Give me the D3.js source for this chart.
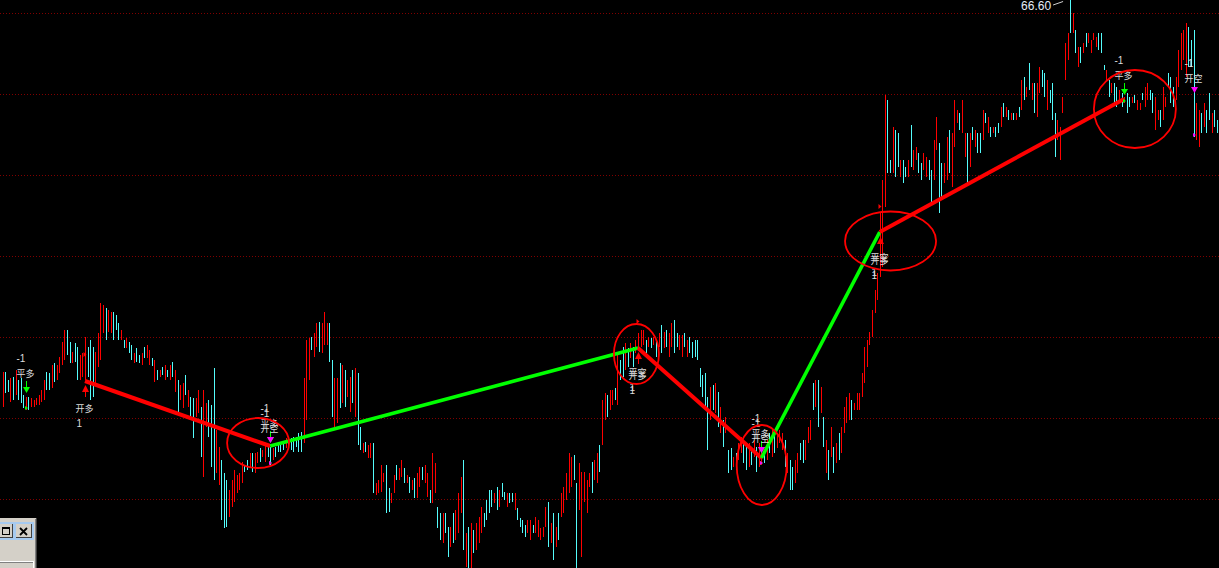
<!DOCTYPE html>
<html><head><meta charset="utf-8">
<script src="https://cdn.jsdelivr.net/npm/d3@7"></script>
<style>html,body{margin:0;padding:0;background:#000;overflow:hidden}svg{display:block}</style>
</head><body><svg id="c" width="1219" height="568"></svg>
<script>
// ---- bar data (high / low / up=1 red, 0 cyan) ----
const high = [
48.00,48.00,47.60,47.70,47.75,48.10,47.60,47.70,46.85,46.75,
46.75,46.70,46.60,46.70,46.85,47.10,47.60,48.00,47.95,48.35,
48.45,48.35,48.75,49.50,50.10,50.10,49.50,49.00,49.45,49.25,
48.85,48.95,49.75,49.25,49.60,49.25,49.00,49.95,51.45,51.35,
51.20,51.10,51.00,51.00,50.85,50.45,50.10,49.60,49.70,49.50,
49.35,48.95,49.20,48.85,48.95,49.25,49.35,49.10,48.70,48.60,
48.10,48.10,48.25,48.35,48.10,48.35,48.50,48.10,47.60,47.35,
47.45,47.85,47.10,46.75,46.70,46.70,47.10,46.25,47.10,46.45,
46.60,46.35,48.20,45.10,44.25,43.60,42.95,42.60,42.10,42.60,
43.10,42.85,42.95,43.50,43.35,43.60,43.95,43.95,43.95,44.00,
44.20,44.10,44.35,44.25,44.25,44.20,44.25,44.45,44.35,44.50,
44.70,44.75,44.70,44.75,44.75,44.95,45.00,47.70,49.60,49.70,
49.75,49.95,50.45,50.50,50.45,51.00,50.45,50.45,48.60,47.70,
47.70,48.45,48.35,48.10,47.60,47.75,48.10,48.20,47.95,45.25,
44.45,44.50,44.35,44.45,44.45,42.45,42.60,43.35,42.95,43.35,
42.20,41.95,42.85,43.35,43.20,43.60,43.20,42.85,42.75,42.60,
42.70,42.95,43.25,43.25,43.35,42.95,42.10,43.95,43.45,41.25,
40.95,40.95,40.95,40.25,40.25,40.95,41.10,41.95,42.75,43.60,
39.95,40.25,40.45,40.10,40.45,40.75,41.25,40.95,41.60,42.10,
42.10,41.95,42.25,42.10,42.45,42.00,41.95,41.95,41.95,41.95,
41.20,40.70,40.60,40.35,40.60,40.60,40.35,40.75,40.60,40.20,
40.25,41.25,41.50,40.45,40.95,40.25,40.95,41.95,42.25,42.95,
43.95,43.75,43.85,42.45,43.45,43.00,43.00,42.60,42.95,43.50,
43.60,43.95,44.35,46.60,46.95,46.85,47.10,47.10,47.20,
48.95,48.60,49.25,49.45,49.20,49.45,49.25,49.60,49.95,50.10,
50.10,49.60,49.75,49.70,49.75,49.60,49.95,50.35,50.00,50.10,
49.95,50.45,50.60,49.95,49.85,49.85,49.95,49.60,49.75,49.50,
49.60,49.60,48.20,47.85,47.95,46.75,47.25,47.35,47.45,47.00,
46.25,45.60,45.75,44.10,44.20,43.75,43.95,44.45,44.75,44.45,
44.25,44.45,44.20,44.60,44.25,44.45,44.10,44.10,44.60,44.95,
45.10,44.95,44.95,45.10,44.95,44.60,43.95,43.60,43.25,43.60,
43.95,44.45,44.60,44.60,45.25,45.60,47.45,47.60,47.60,47.25,
45.75,44.60,44.10,45.25,44.25,44.45,44.95,45.25,46.25,46.75,
46.95,46.60,46.45,46.95,46.95,47.95,49.25,49.60,50.00,51.10,
52.10,52.95,55.95,57.60,61.85,61.60,58.60,60.25,60.10,59.95,
58.60,58.60,58.25,58.60,60.35,59.10,59.25,58.95,58.45,58.95,
58.75,58.60,58.10,59.60,60.75,59.45,58.45,58.45,59.75,60.10,
59.95,61.60,61.10,60.95,61.60,59.95,59.95,59.95,60.25,60.10,
59.95,59.95,61.10,60.95,60.75,60.25,60.25,60.25,60.45,61.25,
61.45,61.25,61.10,60.95,60.95,60.95,61.25,62.60,62.75,62.25,
63.45,62.45,62.45,62.45,63.25,63.10,62.95,62.60,62.10,62.45,
60.95,60.60,60.25,61.75,64.45,64.95,66.60,65.95,65.10,64.25,
64.25,64.45,64.95,64.95,64.60,64.95,64.75,64.95,64.95,63.35,
63.10,62.60,62.45,62.45,62.25,62.10,61.95,61.75,61.95,61.75,
61.75,61.85,61.60,61.45,61.95,62.25,62.45,62.10,61.95,61.75,
61.10,61.10,62.25,61.75,62.95,62.75,62.25,62.75,64.10,64.95,
65.10,65.45,65.25,64.60,65.10,61.45,61.10,60.95,61.45,61.10,
61.95,60.95,61.10,60.60,60.75
];
const low = [
46.25,46.95,47.00,46.50,46.60,46.85,46.60,46.45,46.20,46.10,
46.10,46.25,46.25,46.35,46.35,46.50,46.60,47.10,47.10,47.20,
47.50,47.60,47.95,48.35,48.60,48.85,48.45,48.45,48.50,47.60,
47.60,47.75,47.60,47.75,46.60,46.75,47.45,48.25,48.60,49.95,
49.60,50.00,49.95,49.60,50.10,49.60,49.60,49.20,49.20,48.95,
48.60,48.45,48.50,48.45,48.35,48.70,48.70,48.35,48.30,47.50,
47.60,47.75,47.85,47.60,47.75,47.60,47.75,47.00,45.95,46.60,
46.20,46.85,46.25,45.60,44.70,45.75,45.95,43.75,42.75,45.25,
44.75,43.25,42.60,42.95,42.35,40.60,40.20,40.25,40.75,41.25,
41.50,41.95,42.10,42.45,43.00,43.10,43.25,43.00,42.95,43.45,
43.50,43.75,43.50,43.75,43.35,43.60,43.75,44.00,44.00,44.10,
44.20,44.25,44.10,44.00,44.25,44.00,44.00,44.45,45.60,47.60,
49.10,48.75,49.25,49.00,48.95,49.35,49.35,48.50,45.75,45.25,
45.45,46.20,46.45,46.25,46.75,46.00,46.45,45.75,44.35,44.10,
43.95,44.00,43.70,43.70,41.95,41.85,41.95,42.00,42.50,40.95,
41.00,41.45,41.95,42.60,42.60,42.75,42.45,42.45,41.95,42.10,
41.70,41.70,42.25,42.60,42.45,41.75,41.45,41.45,41.95,40.20,
39.60,39.45,39.95,38.75,39.25,39.45,39.60,39.95,40.95,39.10,
38.25,38.20,38.20,38.95,39.10,39.45,39.95,40.25,40.60,40.95,
41.25,41.45,41.10,41.25,41.75,41.60,41.25,41.45,41.50,41.10,
40.60,40.25,39.95,39.75,39.95,39.60,39.95,39.95,39.75,39.60,
39.75,40.25,39.25,39.45,38.60,39.25,39.60,40.75,40.95,41.60,
41.95,42.25,42.60,38.20,41.10,38.75,41.50,40.95,42.25,41.95,
42.60,42.45,43.00,44.35,45.60,45.75,46.10,46.35,46.60,
46.35,47.60,47.75,48.10,48.25,48.70,48.25,48.95,49.10,49.25,
49.35,48.95,49.25,49.20,49.35,48.75,49.25,48.95,49.20,49.25,
48.75,49.25,48.95,49.25,49.10,48.75,49.25,48.75,48.95,48.70,
48.75,48.60,47.25,46.75,46.25,44.10,45.60,46.10,45.95,45.25,
44.95,44.25,44.95,42.95,43.10,43.25,43.10,43.60,43.95,43.45,
43.10,43.25,43.35,43.75,43.00,43.25,43.35,43.45,43.60,43.95,
43.75,43.95,44.20,44.45,44.10,43.25,42.95,42.10,42.10,42.45,
42.95,43.60,43.45,43.60,44.45,44.60,46.10,46.25,45.25,45.95,
44.25,42.95,42.60,43.75,42.95,43.45,43.60,43.95,44.95,45.45,
45.60,45.60,46.10,46.10,46.10,46.75,47.45,48.25,49.35,49.75,
50.95,51.60,52.75,53.25,56.25,57.95,57.95,57.95,57.75,58.25,
57.75,57.45,57.75,57.75,58.25,58.10,58.60,57.95,57.60,58.10,
57.75,57.60,56.45,57.60,59.10,55.95,56.75,57.45,57.60,57.95,
57.25,59.25,60.45,60.10,59.95,58.75,57.35,58.25,59.60,59.25,
58.95,58.95,59.60,60.45,59.95,59.75,59.95,59.75,59.95,60.25,
60.75,60.75,60.60,60.60,60.60,60.60,60.75,61.10,61.60,61.75,
62.10,61.60,60.95,60.75,61.95,62.25,61.75,61.10,61.45,60.60,
58.75,59.60,58.60,60.95,62.60,63.60,64.95,64.95,63.95,63.25,
63.45,63.95,64.25,64.45,63.95,64.60,64.25,64.10,63.95,63.10,
62.60,61.75,61.95,61.45,61.25,61.60,61.25,61.45,60.95,61.25,
61.45,61.45,61.10,61.10,61.60,61.25,61.60,61.60,60.95,60.10,
60.60,60.25,60.60,61.25,62.25,61.45,61.25,61.60,62.25,63.10,
63.60,62.75,63.25,63.25,59.75,59.60,59.25,59.95,60.25,59.95,
60.60,59.95,60.25,59.95,59.75
];
const up = [
1,0,0,1,0,1,0,0,0,1, 0,1,1,1,1,1,1,0,0,1, 0,1,1,1,1,0,0,1,0,0, 1,1,1,0,0,0,1,1,1,1,
0,1,1,0,0,0,1,0,1,0, 0,1,0,0,1,0,1,1,0,1, 0,1,0,1,0,1,0,1,0,1, 1,0,1,0,0,1,1,0,1,1,
0,0,0,1,1,0,0,0,1,1, 1,1,1,1,0,0,1,0,1,1, 0,1,1,0,0,1,0,0,0,0, 1,0,0,0,0,0,0,1,1,1,
0,1,1,0,1,1,1,0,0,1, 1,0,1,0,1,1,0,1,0,0, 1,0,1,1,0,1,1,1,1,0, 0,1,1,0,1,1,0,1,0,1,
0,1,1,0,1,1,0,1,1,0, 0,1,0,0,1,0,1,1,1,0, 1,0,1,0,1,1,1,0,0,0, 0,1,0,1,0,0,1,0,0,1,
0,0,0,0, 1,1,0, 1,1, 1,1, 1,0,1,0,1, 0,1,1,1,1,1,0,0,1,1, 1,1,1,0,1,1,0,1,1,0, 1,1,0,
1,0,0,1,0,1,0,1,1,1, 1,0,1,0,1,0,1,0,1,0, 1,1,0,0,1,1,0,1,0,0, 0,0,0,0,0,0,1,0,1,0,
1,0,1,0,0,1,0,1,1,0, 0,1,0,1,0,1,1,0,1,0, 1,0,1,1,1,0,1,0,0,1, 1,0,0,1,1,1,0,1,0,1,
0,1,0,1,0,1,0,1,1,1, 1,0,1,1,1,1,1,1,1,1, 1,1,1,1,1,0,0,1,0,0, 1,0,0,1,0,1,1,0,0,1,
1,0,0,1,1,0,0,1,1,0, 1,1,1,0,1,1,0,1,0,1, 0,0,1,0,1,0,1,0,0,1, 0,1,0,1,0,1,0,1,0,1,
0,1,0,1,1,0,0,1,0,0, 0,1,1,1,1,1,0,1,0,1, 0,1,0,1,1,1,1,0,0,0, 1,0,1,0,0,1,0,1,0,0,
1,0,1,1,0,1,1,0,0,1, 1,0,1,1,0,0,0,1,1,1, 1,1,0,0,0,1,1,0,1,0, 0,1,0,0,1
];
// horizontal dotted reference levels
const gridPrices = [65.95, 61.90, 57.85, 53.80, 49.75, 45.70, 41.65];
// trades: bar index & fill price, legs between them
const tradeIdx = [32, 104, 247, 295, 341, 436];
const tradePx  = [47.55, 44.30, 49.20, 43.70, 55.00, 61.65];
const legSide  = ["long", "short", "long", "short", "long"];
// signal markers
const sigIdx  = [9, 32, 104, 104, 247, 247, 295, 295, 341, 341, 436, 463];
const sigKind = ["平多","开多","平多","开空","平空","开多","平多","开空","平空","开多","平多","开空"];
const sigTip  = [46.95, 47.35, 44.45, 44.45, 49.00, 49.00, 43.95, 43.95, 54.75, 54.75, 61.85, 61.95];
const sigQty  = {"开多":"1","平空":"1","平多":"-1","开空":"-1"};
// hand-drawn red rings: centre (bar index, price), radius (bars, price)
const ringIdx = [99.3, 246.4, 295.1, 345.2, 440.2];
const ringPx  = [44.45, 48.90, 43.35, 54.55, 61.15];
const ringRb  = [12.05, 8.75, 9.72, 17.7, 15.94];
const ringRp  = [1.25, 1.50, 2.00, 1.475, 1.95];
const maxLabel = "66.60";

// ---- drawing ----
const W = 1219, H = 568;
const svg = d3.select("#c");
const N = Math.min(high.length, low.length, up.length);
const STEP = 2.572;
const x = d3.scaleLinear().domain([0, N - 1]).range([2.7, 2.7 + (N - 1) * STEP]);
const y = d3.scaleLinear().domain([38.2, 66.6]).range([H, 0]);
const RED = "#ff0000", CYAN = "#54fcfc", GREEN = "#00ff00", MAG = "#ff00ff", TXT = "#dcdcdc";

svg.append("rect").attr("width", W).attr("height", H).attr("fill", "#000");

svg.append("g").selectAll("line").data(gridPrices).join("line")
  .attr("x1", 0).attr("x2", W)
  .attr("y1", d => Math.round(y(d)) + 0.5).attr("y2", d => Math.round(y(d)) + 0.5)
  .attr("stroke", "#800000").attr("stroke-width", 1).attr("stroke-dasharray", "1,2");

svg.append("g").attr("shape-rendering", "crispEdges")
  .selectAll("rect").data(d3.range(N)).join("rect")
  .attr("x", i => Math.round(x(i)))
  .attr("width", 1)
  .attr("y", i => Math.round(y(high[i])))
  .attr("height", i => Math.max(1, Math.round(y(low[i])) - Math.round(y(high[i]))))
  .attr("fill", i => up[i] ? RED : CYAN);

// trade legs
svg.append("g").selectAll("line").data(legSide).join("line")
  .attr("x1", (d, k) => x(tradeIdx[k])).attr("y1", (d, k) => y(tradePx[k]))
  .attr("x2", (d, k) => x(tradeIdx[k + 1])).attr("y2", (d, k) => y(tradePx[k + 1]))
  .attr("stroke", d => d === "long" ? RED : GREEN)
  .attr("stroke-width", d => d === "long" ? 4 : 3.6);

// markers
const tri = pts => "M" + pts.map(p => p.join(",")).join("L") + "Z";
const mg = svg.append("g");
function cjk(tx, ty, s) {
  mg.append("text").attr("x", tx).attr("y", ty).text(s)
    .attr("font-family", "'Noto Sans CJK SC', sans-serif").attr("font-size", 9).attr("fill", TXT);
}
function num(tx, ty, s) {
  mg.append("text").attr("x", tx).attr("y", ty).text(s)
    .attr("font-family", "'Liberation Sans', Arial, sans-serif").attr("font-size", 10).attr("fill", TXT);
}
const order = d3.range(sigIdx.length).sort((a, b) => (sigKind[a] === "开空") - (sigKind[b] === "开空"));
order.forEach(k => {
  const i = sigIdx[k], kind = sigKind[k];
  const bx = Math.round(x(i)) + 0.5, ty = Math.round(y(sigTip[k])), yl = Math.round(y(low[i]));
  const tx = bx - 10, q = sigQty[kind];
  if (kind === "平多") {
    mg.append("line").attr("x1", bx).attr("x2", bx).attr("y1", ty - 12).attr("y2", ty - 5).attr("stroke", GREEN);
    mg.append("path").attr("d", tri([[bx - 3.5, ty - 6], [bx + 3.5, ty - 6], [bx, ty]])).attr("fill", GREEN);
    mg.append("path").attr("d", tri([[bx - 1.5, yl - 4], [bx - 1.5, yl], [bx + 1.5, yl - 2]])).attr("fill", GREEN);
    cjk(tx, ty - 16, kind); num(tx, ty - 31, q);
  } else if (kind === "开空") {
    mg.append("path").attr("d", tri([[bx - 3.5, ty - 6], [bx + 3.5, ty - 6], [bx, ty]])).attr("fill", MAG);
    mg.append("path").attr("d", tri([[bx - 1.5, yl - 4], [bx - 1.5, yl], [bx + 1.5, yl - 2]])).attr("fill", MAG);
    cjk(tx, ty - 11, kind); num(tx, ty - 26, q);
  } else if (kind === "开多") {
    mg.append("path").attr("d", tri([[bx, ty], [bx - 3.5, ty + 7], [bx + 3.5, ty + 7]])).attr("fill", RED);
    mg.append("line").attr("x1", bx).attr("x2", bx).attr("y1", ty + 6).attr("y2", ty + 12).attr("stroke", RED);
    mg.append("path").attr("d", tri([[bx - 2, ty - 33], [bx - 2, ty - 28], [bx + 1, ty - 30.5]])).attr("fill", RED);
    cjk(tx, ty + 27, kind); num(tx + 1, ty + 42, q);
  } else {
    cjk(tx, ty + 24, kind); num(tx + 1, ty + 39, q);
  }
});

// rings
svg.append("g").selectAll("ellipse").data(ringIdx).join("ellipse")
  .attr("cx", (d, k) => x(d)).attr("cy", (d, k) => y(ringPx[k]))
  .attr("rx", (d, k) => ringRb[k] * STEP).attr("ry", (d, k) => ringRp[k] * (H / (66.6 - 38.2)))
  .attr("fill", "none").attr("stroke", RED).attr("stroke-width", 1.8);

// max price label
const mi = d3.maxIndex(high);
const mx = x(mi), my = y(high[mi]);
svg.append("text").attr("x", mx - 19).attr("y", my + 10).attr("text-anchor", "end").text(maxLabel)
  .attr("font-family", "'Liberation Sans', Arial, sans-serif").attr("font-size", 12).attr("fill", "#e4ecf8");
svg.append("line").attr("x1", mx - 17).attr("y1", my + 5).attr("x2", mx - 7).attr("y2", my + 1.5)
  .attr("stroke", "#d0d0d0").attr("stroke-width", 1);

// window fragment bottom-left
const wg = svg.append("g").attr("shape-rendering", "crispEdges");
wg.append("rect").attr("x", 0).attr("y", 518).attr("width", 37).attr("height", 50).attr("fill", "#d4d0c8");
wg.append("rect").attr("x", 36).attr("y", 518).attr("width", 1).attr("height", 50).attr("fill", "#404040");
wg.append("rect").attr("x", 35).attr("y", 519).attr("width", 1).attr("height", 49).attr("fill", "#808080");
wg.append("rect").attr("x", 0).attr("y", 522).attr("width", 34).attr("height", 18).attr("fill", "#a6caf0");
wg.append("rect").attr("x", 0).attr("y", 524).attr("width", 13).attr("height", 14).attr("fill", "#d4d0c8");
wg.append("rect").attr("x", 12).attr("y", 524).attr("width", 1).attr("height", 14).attr("fill", "#404040");
wg.append("rect").attr("x", 0).attr("y", 537).attr("width", 13).attr("height", 1).attr("fill", "#404040");
wg.append("rect").attr("x", 2.5).attr("y", 527.5).attr("width", 7).attr("height", 7).attr("fill", "none").attr("stroke", "#000");
wg.append("rect").attr("x", 2).attr("y", 527).attr("width", 8).attr("height", 2).attr("fill", "#000");
wg.append("rect").attr("x", 16).attr("y", 524).attr("width", 16).attr("height", 14).attr("fill", "#d4d0c8");
wg.append("rect").attr("x", 31).attr("y", 524).attr("width", 1).attr("height", 14).attr("fill", "#404040");
wg.append("rect").attr("x", 16).attr("y", 537).attr("width", 16).attr("height", 1).attr("fill", "#404040");
svg.append("path").attr("d", "M20,528L27,535M27,528L20,535").attr("stroke", "#000").attr("stroke-width", 1.8);
wg.append("rect").attr("x", 0).attr("y", 561).attr("width", 34).attr("height", 1).attr("fill", "#ffffff");
wg.append("rect").attr("x", 0).attr("y", 562).attr("width", 34).attr("height", 1).attr("fill", "#808080");
wg.append("rect").attr("x", 33).attr("y", 562).attr("width", 1).attr("height", 6).attr("fill", "#ffffff");
</script></body></html>
